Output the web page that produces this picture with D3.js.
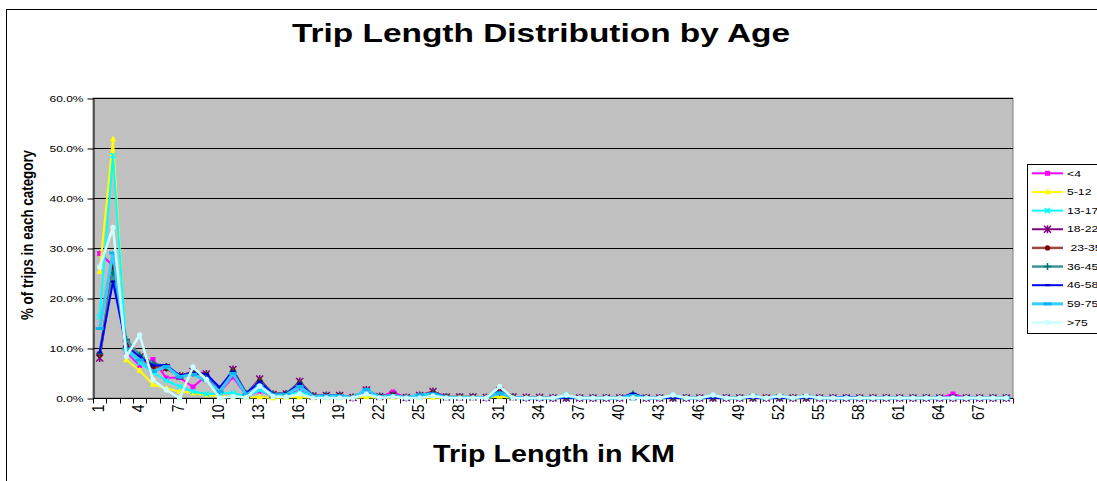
<!DOCTYPE html>
<html>
<head>
<meta charset="utf-8">
<script src="https://cdn.jsdelivr.net/npm/d3@7"></script>
<style>
  html, body { margin: 0; padding: 0; background: #fff; }
  svg { display: block; font-family: "Liberation Sans", Arial, sans-serif; }
</style>
</head>
<body>
<svg id="chart" width="1097" height="481"></svg>
<script>
// Trip length categories in km (1 .. 69)
const categories = d3.range(1, 70);

// Share of trips (%) by trip length, one array per age group
const seriesNames = ["<4", "5-12", "13-17", "18-22", " 23-35", "36-45", "46-58", "59-75", ">75"];

const ageUnder4 = [28.9,26.5,9.2,6.5,7.7,4.0,4.1,2.2,4.5,1.2, 4.2,0.5,1.4,0.5,0.6,1.5,0.2,0.3,0.3,0.0, 1.2,0.2,1.2,0.0,0.3,0.6,0.1,0.0,0.1,0.0, 0.8,0.1,0,0,0,0,0,0,0,0, 0,0,0,0,0,0,0,0,0,0, 0,0,0,0,0,0,0,0,0,0, 0,0,0,0,0.8,0,0,0,0];
const age5to12 = [25.3,51.8,7.6,5.5,2.7,1.9,1.3,1.0,0.6,0.3, 0.3,0.1,0.2,0.0,0.1,0.2,0,0,0,0, 0.2,0,0.1,0,0,0.1,0,0,0,0, 0.3,0,0,0,0,0.5,0,0,0,0, 0,0,0,0,0,0,0,0,0,0, 0,0,0,0,0,0,0,0,0,0, 0,0,0,0,0,0,0,0,0];
const age13to17 = [16.2,48.5,9.6,7.0,5.1,3.5,2.3,1.3,0.8,0.9, 1.0,0.3,1.6,0.4,0.5,1.3,0.2,0.3,0.3,0.1, 1.6,0.2,0.4,0,0.4,0.6,0.1,0.1,0.1,0, 1.0,0.1,0,0,0,0.6,0,0,0,0, 0,0,0,0.4,0,0,0.4,0,0,0, 0,0,0,0,0,0,0,0,0,0, 0,0,0,0,0,0,0,0,0];
const age18to22 = [8.0,24.8,10.8,8.2,6.3,6.1,4.4,5.3,4.8,1.7, 5.7,0.8,3.8,0.7,0.8,3.3,0.4,0.5,0.5,0.1, 1.6,0.3,0.6,0.1,0.5,1.3,0.2,0.2,0.2,0.1, 1.5,0.2,0.1,0.1,0,0,0,0,0,0, 0.3,0,0,0,0,0,0,0,0,0, 0,0,0,0,0,0,0,0,0,0, 0,0,0,0,0,0,0,0,0];
const age23to35 = [8.6,26.2,10.6,8.0,6.2,5.9,4.4,4.9,4.7,1.8, 5.5,0.9,3.5,0.8,0.9,3.0,0.4,0.5,0.5,0.1, 1.4,0.3,0.6,0.1,0.5,1.1,0.2,0.2,0.2,0.1, 1.2,0.2,0.1,0.1,0,0,0,0,0,0, 0.4,0,0,0,0,0,0,0,0,0, 0,0,0,0,0,0,0,0,0,0, 0,0,0,0,0,0,0,0,0];
const age36to45 = [8.9,25.0,11.7,8.6,6.9,6.3,4.3,5.0,4.6,1.9, 5.3,0.9,3.3,0.8,0.9,2.9,0.4,0.5,0.5,0.1, 1.4,0.3,0.5,0.1,0.5,1.0,0.2,0.2,0.2,0.1, 1.1,0.2,0,0,0,0,0,0,0,0, 0.8,0,0,0,0,0,0,0,0,0, 0,0,0,0,0,0,0,0,0,0, 0,0,0,0,0,0,0,0,0];
const age46to58 = [9.1,23.3,10.2,8.3,6.5,6.6,4.5,4.9,4.8,2.1, 5.3,0.9,3.3,0.8,0.9,2.9,0.4,0.5,0.5,0.1, 1.3,0.3,0.5,0.1,0.5,1.0,0.2,0.2,0.2,0.1, 1.1,0.2,0,0,0,0,0,0,0,0, 0.9,0,0,0,0,0,0,0,0,0, 0,0,0,0,0,0,0.3,0,0,0, 0,0,0,0,0,0,0,0,0];
const age59to75 = [13.9,29.0,9.8,7.6,5.3,6.3,4.2,4.7,3.5,1.3, 4.9,0.6,2.4,0.6,0.7,2.3,0.3,0.4,0.4,0.1, 1.7,0.2,0.5,0.1,0.6,0.8,0.1,0.1,0.1,0.1, 1.0,0.1,0,0,0,0.4,0,0,0,0, 0.5,0,0,0.5,0,0,0.5,0,0,0.4, 0,0.4,0,0.4,0,0,0,0,0,0, 0,0,0,0,0,0,0,0,0];
const ageOver75 = [26.2,34.1,8.3,12.6,3.6,1.6,0.0,6.2,3.7,0.0, 0.3,0.1,2.4,0.3,0.2,0.8,0,0,0,0, 0.8,0,0.2,0,0,0.4,0,0,0,0, 2.3,0,0,0,0,0.6,0,0,0,0, 0,0,0,0.6,0,0,0.6,0,0,0.4, 0,0.4,0,0.4,0,0,0,0,0,0, 0,0,0,0,0,0,0,0,0];

const seriesValues = [ageUnder4, age5to12, age13to17, age18to22, age23to35, age36to45, age46to58, age59to75, ageOver75];

const yTicks = [0, 0.1, 0.2, 0.3, 0.4, 0.5, 0.6];
const xLabelStep = 3;

// Line / marker appearance for each age group
const styles = [
  { line: "#FF00FF", width: 2,   marker: "square",   fill: "#FF00FF" },
  { line: "#FFFF00", width: 2,   marker: "triangle", fill: "#FFFF00" },
  { line: "#00FFFF", width: 2,   marker: "x",        fill: "#00FFFF" },
  { line: "#800080", width: 2,   marker: "star",     fill: "#800080" },
  { line: "#9E4545", width: 2.5, marker: "circle",   fill: "#800000" },
  { line: "#3A9696", width: 2.5, marker: "plus",     fill: "#006E6E" },
  { line: "#0000FF", width: 2,   marker: "dash",     fill: "#0000B0" },
  { line: "#33CCFF", width: 3,   marker: "bar",      fill: "#10B4F0" },
  { line: "#CCFFFF", width: 2.5, marker: "circle",   fill: "#CCFFFF" }
];

const svg = d3.select("#chart");
const W = 1097, H = 481;
const plot = { left: 93, right: 1013, top: 98, bottom: 398 };
const textStretch = 1.3;

svg.append("rect").attr("width", W).attr("height", H).attr("fill", "#fff");

// outer chart frame
svg.append("rect")
  .attr("x", 6.5).attr("y", 9.5).attr("width", 1200).attr("height", 600)
  .attr("fill", "none").attr("stroke", "#000").attr("stroke-width", 1);

const x = d3.scaleBand().domain(categories).range([plot.left, plot.right]).padding(0);
const y = d3.scaleLinear().domain([0, 0.6]).range([plot.bottom, plot.top]);
const cx = c => x(c) + x.bandwidth() / 2;

// plot area
svg.append("rect")
  .attr("x", plot.left).attr("y", plot.top)
  .attr("width", plot.right - plot.left).attr("height", plot.bottom - plot.top)
  .attr("fill", "#C0C0C0").attr("stroke", "#808080").attr("stroke-width", 1);

// horizontal gridlines
svg.append("g").selectAll("line").data(yTicks.filter(d => d > 0)).join("line")
  .attr("x1", plot.left).attr("x2", plot.right)
  .attr("y1", d => Math.round(y(d)) + 0.5).attr("y2", d => Math.round(y(d)) + 0.5)
  .attr("stroke", "#000").attr("stroke-width", 1);

// y axis
const yAxis = svg.append("g")
  .attr("transform", `translate(${plot.left + 0.5},0.5)`)
  .call(d3.axisLeft(y).tickValues(yTicks).tickFormat(d3.format(".1%")).tickSize(6).tickSizeOuter(0));
yAxis.select(".domain").attr("stroke", "#000");
yAxis.selectAll(".tick line").attr("stroke", "#000");
yAxis.selectAll(".tick text")
  .attr("x", -8).attr("dy", "0.35em")
  .attr("font-family", "Liberation Sans, Arial, sans-serif")
  .attr("font-size", 9.6).attr("fill", "#000")
  .attr("transform", `scale(${textStretch - 0.05},1)`);

// x axis: tick marks between categories
const xAxis = svg.append("g").attr("transform", `translate(0,${plot.bottom + 0.5})`);
xAxis.append("line")
  .attr("x1", plot.left).attr("x2", plot.right + 0.5)
  .attr("stroke", "#000").attr("stroke-width", 1);
const boundaries = categories.map(c => x(c)).concat([plot.right]);
xAxis.selectAll("line.tick").data(boundaries).join("line")
  .attr("class", "tick")
  .attr("x1", d => Math.round(d) + 0.5).attr("x2", d => Math.round(d) + 0.5)
  .attr("y1", 0).attr("y2", 5)
  .attr("stroke", "#000").attr("stroke-width", 1);

const xLabels = categories.filter((c, i) => i % xLabelStep === 0);
xAxis.selectAll("text").data(xLabels).join("text")
  .attr("transform", c => `translate(${cx(c) - 1},${6}) scale(1.15,1) rotate(-90)`)
  .attr("text-anchor", "end")
  .attr("dy", "0.36em")
  .attr("font-size", 14)
  .attr("fill", "#000")
  .text(c => c);

// marker shapes
function markerPath(type) {
  switch (type) {
    case "square":   return "M-2.5,-2.5H2.5V2.5H-2.5Z";
    case "triangle": return "M0,-3.5L3.2,2.3H-3.2Z";
    case "x":        return "M-2.5,-2.5L2.5,2.5M-2.5,2.5L2.5,-2.5";
    case "star":     return "M-3.5,-3.5L3.5,3.5M-3.5,3.5L3.5,-3.5M0,-4V4";
    case "circle":   return d3.symbol(d3.symbolCircle, 22)();
    case "plus":     return "M-3.5,0H3.5M0,-3.5V3.5";
    case "dash":     return "M-2.5,-1H2.5V1H-2.5Z";
    case "bar":      return "M-4,-1.5H4V1.5H-4Z";
  }
}
const stroked = t => t === "x" || t === "star" || t === "plus";

function drawMarkers(sel, st) {
  const p = markerPath(st.marker);
  sel.append("path")
    .attr("d", p)
    .attr("fill", stroked(st.marker) ? "none" : st.fill)
    .attr("stroke", stroked(st.marker) ? st.fill : "none")
    .attr("stroke-width", stroked(st.marker) ? 1.5 : 0);
}

// series lines + markers
const line = d3.line().x(d => cx(d.c)).y(d => y(d.v / 100));
const seriesG = svg.append("g");
seriesValues.forEach((vals, i) => {
  const st = styles[i];
  const pts = categories.map((c, j) => ({ c, v: vals[j] }));
  const g = seriesG.append("g");
  g.append("path").datum(pts)
    .attr("d", line)
    .attr("fill", "none").attr("stroke", st.line)
    .attr("stroke-width", st.width).attr("stroke-linejoin", "round");
  g.selectAll("g.m").data(pts).join("g")
    .attr("class", "m")
    .attr("transform", d => `translate(${cx(d.c)},${y(d.v / 100)})`)
    .call(sel => drawMarkers(sel, st));
});

// titles
svg.append("text")
  .attr("x", 541).attr("y", 42)
  .attr("text-anchor", "middle")
  .attr("font-size", 25).attr("font-weight", "bold")
  .attr("textLength", 498).attr("lengthAdjust", "spacingAndGlyphs")
  .text("Trip Length Distribution by Age");

svg.append("text")
  .attr("x", 554).attr("y", 462)
  .attr("text-anchor", "middle")
  .attr("font-size", 24).attr("font-weight", "bold")
  .attr("textLength", 242).attr("lengthAdjust", "spacingAndGlyphs")
  .text("Trip Length in KM");

svg.append("text")
  .attr("transform", `translate(33,235) scale(${textStretch},1) rotate(-90)`)
  .attr("text-anchor", "middle")
  .attr("font-size", 13.4).attr("font-weight", "bold")
  .attr("textLength", 170).attr("lengthAdjust", "spacingAndGlyphs")
  .text("% of trips in each category");

// legend
const legend = svg.append("g");
legend.append("rect")
  .attr("x", 1027.5).attr("y", 164.5).attr("width", 120).attr("height", 169)
  .attr("fill", "#fff").attr("stroke", "#000").attr("stroke-width", 1);
seriesNames.forEach((name, i) => {
  const st = styles[i];
  const yy = 173.3 + i * 18.65;
  const item = legend.append("g").attr("transform", `translate(0,${yy})`);
  item.append("line")
    .attr("x1", 1032).attr("x2", 1063)
    .attr("stroke", st.line).attr("stroke-width", st.width);
  const m = item.append("g").attr("transform", "translate(1047.5,0)");
  drawMarkers(m, st);
  item.append("text")
    .attr("transform", `translate(1067,0) scale(${textStretch + 0.03},1)`)
    .attr("dy", "0.35em")
    .attr("font-size", 9.2)
    .attr("fill", "#000")
    .style("white-space", "pre")
    .text(name);
});
</script>
</body>
</html>
